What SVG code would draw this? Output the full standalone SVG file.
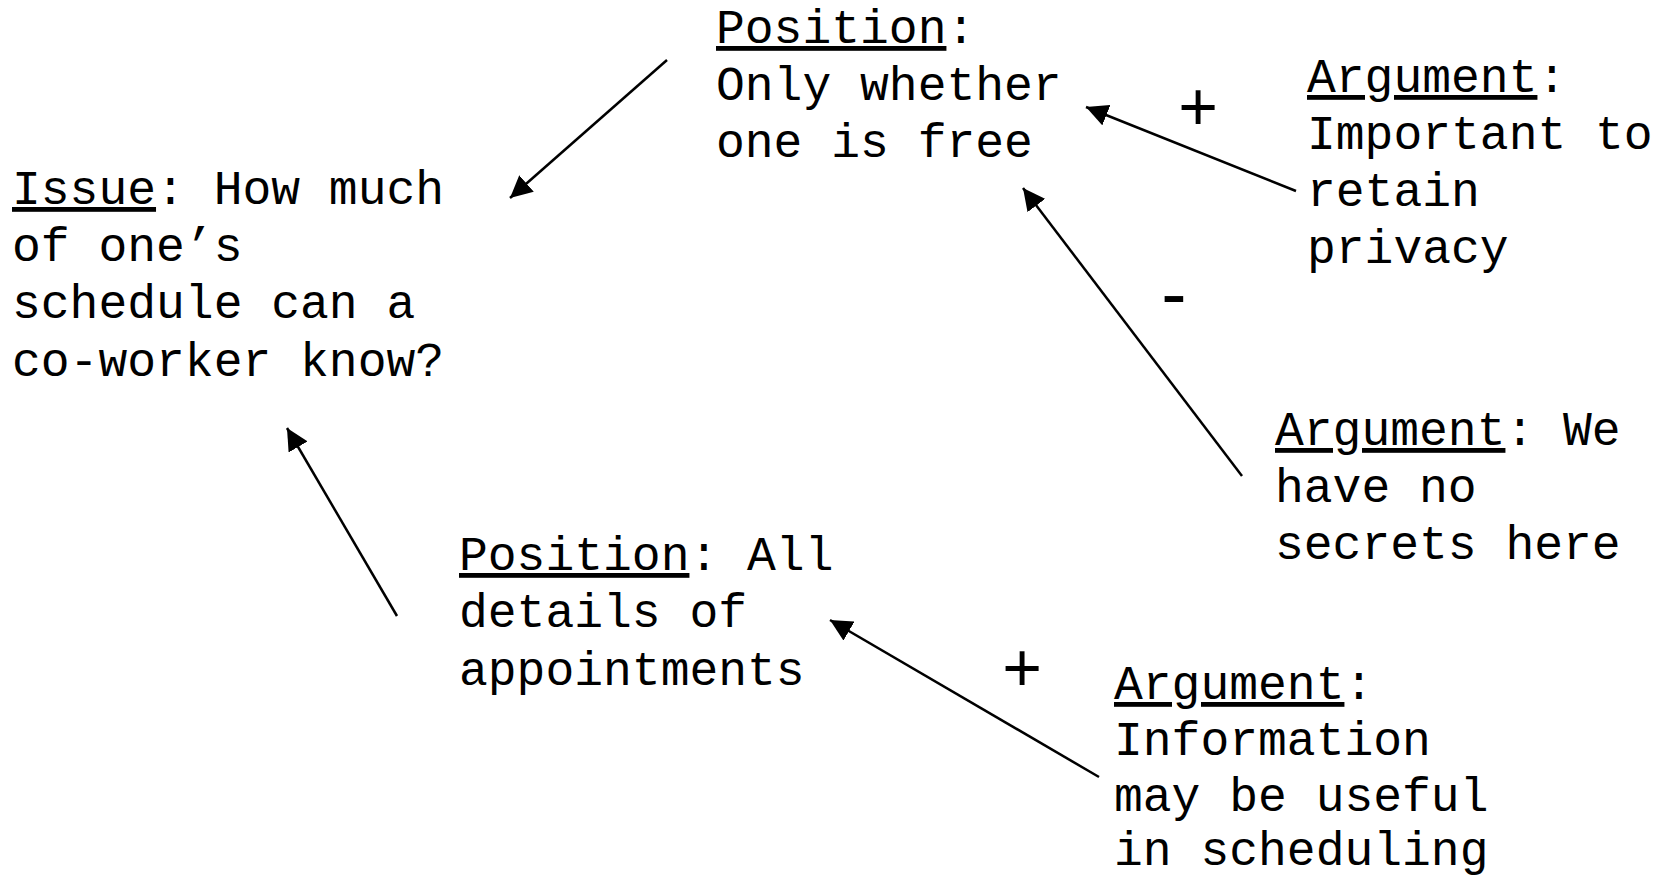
<svg xmlns="http://www.w3.org/2000/svg" width="1665" height="877" viewBox="0 0 1665 877">
<defs>
<style>
.t{font-family:"Courier New","Nimbus Mono PS","FreeMono","Liberation Mono",monospace;font-size:48px;fill:#000}
.u{text-decoration:underline}
.s{font-family:"Liberation Sans",Arial,sans-serif;font-size:68px;fill:#000}
.c{stroke:#000;stroke-width:2.5;fill:none;marker-end:url(#ah)}
</style>
<marker id="ah" viewBox="0 0 10 10" refX="10" refY="5" markerWidth="22" markerHeight="22" markerUnits="userSpaceOnUse" orient="auto" preserveAspectRatio="none">
<path d="M0,0 L10,5 L0,10 z" fill="#000"/>
</marker>
</defs>
<rect width="1665" height="877" fill="#fff"/>
<g id="issue">
<text class="t" x="12" y="204"><tspan class="u">Issue</tspan>: How much</text>
<text class="t" x="12" y="261">of one’s</text>
<text class="t" x="12" y="318">schedule can a</text>
<text class="t" x="12" y="376">co-worker know?</text>
</g>
<g id="position1">
<text class="t" x="716" y="43"><tspan class="u">Position</tspan>:</text>
<text class="t" x="716" y="100">Only whether</text>
<text class="t" x="716" y="157">one is free</text>
</g>
<g id="argument1">
<text class="t" x="1307" y="92"><tspan class="u">Argument</tspan>:</text>
<text class="t" x="1307" y="149">Important to</text>
<text class="t" x="1307" y="206">retain</text>
<text class="t" x="1307" y="263">privacy</text>
</g>
<g id="argument2">
<text class="t" x="1275" y="445"><tspan class="u">Argument</tspan>: We</text>
<text class="t" x="1275" y="502">have no</text>
<text class="t" x="1275" y="559">secrets here</text>
</g>
<g id="position2">
<text class="t" x="459" y="570"><tspan class="u">Position</tspan>: All</text>
<text class="t" x="459" y="627">details of</text>
<text class="t" x="459" y="685">appointments</text>
</g>
<g id="argument3">
<text class="t" x="1114" y="699"><tspan class="u">Argument</tspan>:</text>
<text class="t" x="1114" y="755">Information</text>
<text class="t" x="1114" y="811">may be useful</text>
<text class="t" x="1114" y="865">in scheduling</text>
</g>
<g id="signs">
<text class="s" x="1198" y="130" text-anchor="middle">+</text>
<text class="s" x="1174" y="319" text-anchor="middle" style="font-size:76px">-</text>
<text class="s" x="1022" y="691" text-anchor="middle">+</text>
</g>
<g id="connectors">
<line class="c" x1="667" y1="60" x2="510" y2="198"/>
<line class="c" x1="1296" y1="191" x2="1086" y2="107"/>
<line class="c" x1="1242" y1="476" x2="1023" y2="188"/>
<line class="c" x1="397" y1="616" x2="287" y2="428"/>
<line class="c" x1="1099" y1="777" x2="830" y2="620"/>
</g>
</svg>
